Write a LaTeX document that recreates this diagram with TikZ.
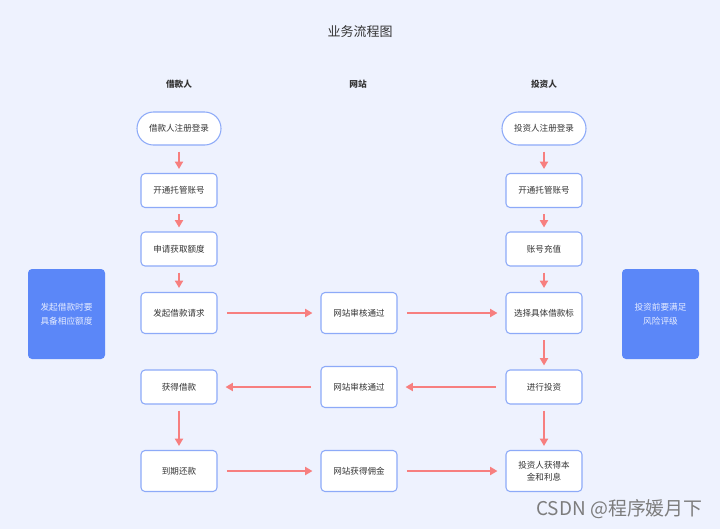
\documentclass[tikz,border=0pt]{standalone}
\usepackage{fontspec}
\setmainfont{Noto Sans CJK SC}
\usetikzlibrary{arrows.meta}
\definecolor{bgc}{HTML}{EEF2FE}
\definecolor{bordc}{HTML}{8DAAF8}
\definecolor{arrc}{HTML}{F77F7F}
\definecolor{sidec}{HTML}{5B87F8}
\definecolor{txtc}{HTML}{333333}
\definecolor{sidetxt}{HTML}{E6ECFF}
\definecolor{wmc}{HTML}{7C7C7C}
\tikzset{
  stepbox/.style={draw=bordc, line width=0.8pt, fill=white, rounded corners=3pt,
    minimum width=57pt, minimum height=25.5pt, inner sep=1pt, align=center,
    text=txtc, font=\fontsize{6.4pt}{9pt}\selectfont},
  tallbox/.style={stepbox, minimum height=30.75pt},
  startbox/.style={stepbox, minimum width=63pt, minimum height=24.75pt, rounded corners=12.3pt},
  sidebox/.style={fill=sidec, rounded corners=3pt, minimum width=57.75pt, minimum height=67.5pt,
    align=center, text=sidetxt, font=\fontsize{6.5pt}{10.5pt}\selectfont},
  hdr/.style={text=txtc, font=\fontsize{6.5pt}{8pt}\selectfont\bfseries},
  flow/.style={draw=arrc, line width=1.4pt, -{Triangle[length=5.5pt,width=6pt]}},
  vflow/.style={flow, shorten <=4.5pt, shorten >=3pt},
  hflow/.style={flow, shorten <=7pt, shorten >=6pt}
}
\begin{document}
\begin{tikzpicture}[x=0.75pt,y=-0.75pt]
\fill[bgc] (0,0) rectangle (720,529);
\useasboundingbox (0,0) rectangle (720,529);
\node[text=txtc, font=\fontsize{9.75pt}{11pt}\selectfont] (title) at (360,32) {业务流程图};
\node[hdr] (h1) at (179,84) {借款人};
\node[hdr] (h2) at (358,84) {网站};
\node[hdr] (h3) at (544,84) {投资人};
% left column
\node[startbox] (l1) at (179,128.5) {借款人注册登录};
\node[stepbox] (l2) at (179,190.5) {开通托管账号};
\node[stepbox] (l3) at (179,249) {申请获取额度};
\node[tallbox] (l4) at (179,313) {发起借款请求};
\node[stepbox] (l5) at (179,387) {获得借款};
\node[tallbox] (l6) at (179,471) {到期还款};
% middle column
\node[tallbox] (m4) at (359,313) {网站审核通过};
\node[tallbox] (m5) at (359,387) {网站审核通过};
\node[tallbox] (m6) at (359,471) {网站获得佣金};
% right column
\node[startbox] (r1) at (544,128.5) {投资人注册登录};
\node[stepbox] (r2) at (544,190.5) {开通托管账号};
\node[stepbox] (r3) at (544,249) {账号充值};
\node[tallbox] (r4) at (544,313) {选择具体借款标};
\node[stepbox] (r5) at (544,387) {进行投资};
\node[tallbox] (r6) at (544,471) {投资人获得本\\金和利息};
% side notes
\node[sidebox] (sl) at (66.5,314) {发起借款时要\\具备相应额度};
\node[sidebox] (sr) at (660.5,314) {投资前要满足\\风险评级};
% arrows
\draw[vflow] (l1) -- (l2);
\draw[vflow] (l2) -- (l3);
\draw[vflow] (l3) -- (l4);
\draw[vflow] (l5) -- (l6);
\draw[vflow] (r1) -- (r2);
\draw[vflow] (r2) -- (r3);
\draw[vflow] (r3) -- (r4);
\draw[vflow] (r4) -- (r5);
\draw[vflow] (r5) -- (r6);
\draw[hflow] (l4) -- (m4);
\draw[hflow] (m4) -- (r4);
\draw[hflow] (r5) -- (m5);
\draw[hflow] (m5) -- (l5);
\draw[hflow] (l6) -- (m6);
\draw[hflow] (m6) -- (r6);
% watermark
\node[anchor=east, text=wmc, font=\fontsize{14.2pt}{16pt}\selectfont, inner sep=0pt] (wm) at (703,509) {CSDN @程序媛月下};
\end{tikzpicture}
\end{document}
